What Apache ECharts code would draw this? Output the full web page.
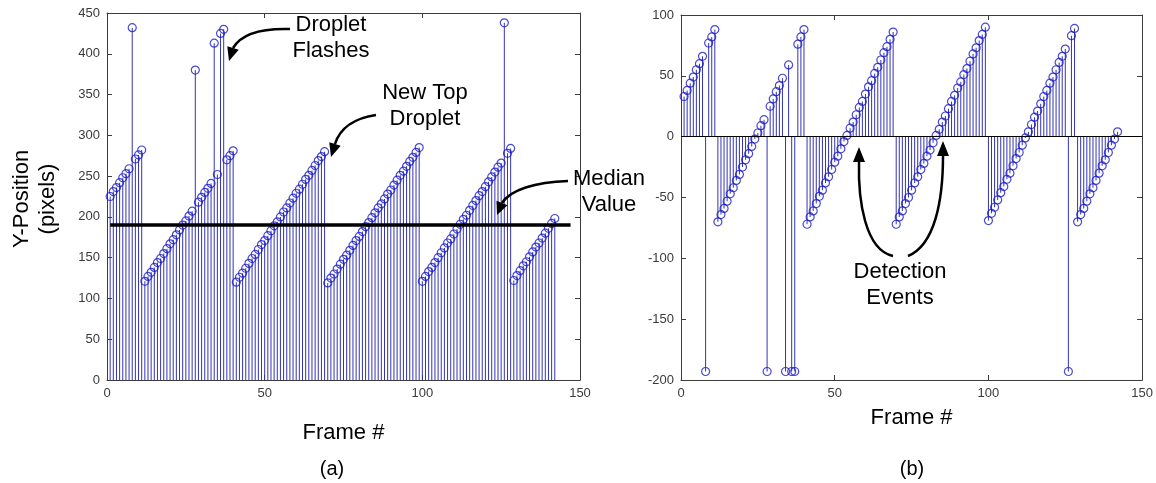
<!DOCTYPE html>
<html><head><meta charset="utf-8">
<script src="https://cdn.jsdelivr.net/npm/echarts@6.0.0/dist/echarts.min.js"></script>
<style>html,body{margin:0;padding:0;background:#fff}#c{width:1156px;height:483px}</style>
</head><body><div id="c"></div>
<script>
// ---- data ----
const firstFrame = 1;
// (a) raw Y-position of the top droplet, frames 1..142
const positionY = [
  225, 231, 236, 242, 248, 253, 259, 432, 271, 276, 282,
  121, 127, 132, 138, 144, 149, 155, 161, 167, 172, 178, 184, 190, 195, 201, 207, 380, 218, 224, 230, 235, 241, 413, 252, 425, 430, 270, 275, 281,
  120, 126, 131, 137, 143, 149, 154, 160, 166, 171, 177, 183, 189, 194, 200, 206, 211, 217, 223, 229, 234, 240, 246, 251, 257, 263, 269, 274, 280,
  119, 125, 130, 136, 142, 148, 153, 159, 165, 171, 176, 182, 188, 193, 199, 205, 211, 216, 222, 228, 233, 239, 245, 251, 256, 262, 268, 273, 279, 285,
  121, 127, 133, 138, 144, 150, 156, 162, 168, 173, 179, 185, 191, 197, 202, 208, 214, 220, 226, 231, 237, 243, 249, 255, 261, 266, 438, 278, 284,
  122, 128, 134, 140, 145, 151, 157, 163, 168, 174, 180, 186, 192, 198
];
// (b) position relative to the median, frames 1..142
const deviationY = [
  33, 38, 44, 49, 55, 60, 66, -193, 77, 82, 88,
  -70, -64, -59, -53, -47, -42, -36, -31, -25, -19, -14, -8, -2, 3, 9, 14, -193, 25, 31, 37, 42, 48, -193, 59, -193, -193, 76, 82, 88,
  -72, -66, -61, -55, -49, -44, -38, -33, -27, -21, -16, -10, -4, 1, 7, 12, 18, 24, 29, 35, 41, 46, 52, 57, 63, 69, 74, 80, 86,
  -72, -66, -61, -55, -50, -44, -38, -33, -27, -22, -16, -11, -5, 1, 6, 12, 17, 23, 29, 34, 40, 45, 51, 56, 62, 68, 73, 79, 84, 90,
  -69, -63, -58, -52, -46, -41, -35, -30, -24, -18, -13, -7, -1, 4, 10, 16, 21, 27, 33, 38, 44, 49, 55, 61, 66, 72, -193, 83, 89,
  -70, -64, -59, -53, -47, -42, -36, -30, -24, -19, -13, -7, -2, 4
];
const medianValue = 190;
const medianFrames = [1, 147];
const xRange = [0, 150, 50];
const leftYRange = [0, 450, 50];
const rightYRange = [-200, 100, 50];

// ---- build ----
const leftPts = positionY.map((v, i) => [firstFrame + i, v]);
const rightPts = deviationY.map((v, i) => [firstFrame + i, v]);
const medianPts = medianFrames.map(f => [f, medianValue]);

const FONT = "'Liberation Sans', Arial, sans-serif";
const AXC = '#3c3c3c';
function axis(gridIndex, range, position, showLabel) {
  return {
    type: 'value', gridIndex, position,
    min: range[0], max: range[1], interval: range[2],
    axisLine: { show: true, onZero: false, lineStyle: { color: AXC, width: 1 } },
    axisTick: { show: true, inside: true, length: 5, lineStyle: { color: AXC } },
    splitLine: { show: false },
    axisLabel: { show: showLabel, color: '#3a3a3a', fontSize: 13, fontFamily: FONT, margin: 7 }
  };
}
const stemColor = '#3434b4';
const ringColor = '#1c1cc8';

function arrow(p0, c1, c2, p1, tip) {
  const dx = tip[0] - p1[0], dy = tip[1] - p1[1];
  const L = Math.hypot(dx, dy), nx = -dy / L, ny = dx / L, hw = 6;
  return [
    { type: 'bezierCurve', z: 100, silent: true,
      shape: { x1: p0[0], y1: p0[1], cpx1: c1[0], cpy1: c1[1], cpx2: c2[0], cpy2: c2[1], x2: p1[0], y2: p1[1] },
      style: { stroke: '#000', lineWidth: 2.5, fill: 'none' } },
    { type: 'polygon', z: 100, silent: true,
      shape: { points: [tip, [p1[0] + nx * hw, p1[1] + ny * hw], [p1[0] - nx * hw, p1[1] - ny * hw]] },
      style: { fill: '#000' } }
  ];
}
function label(text, x, y, size, rot) {
  return { type: 'text', x, y, z: 100, silent: true, rotation: rot || 0,
    style: { text, fontSize: size, fontFamily: FONT, fill: '#000', align: 'center', verticalAlign: 'middle', lineHeight: 26 } };
}

const chart = echarts.init(document.getElementById('c'), null, { renderer: 'canvas' });
chart.setOption({
  animation: false,
  backgroundColor: '#fff',
  grid: [
    { left: 107, top: 13, width: 473, height: 367 },
    { left: 681, top: 15, width: 462, height: 365 }
  ],
  xAxis: [
    Object.assign(axis(0, xRange, 'bottom', true), { name: 'Frame #', nameLocation: 'middle', nameGap: 42, nameTextStyle: { fontSize: 22, fontFamily: FONT, color: '#000' } }),
    axis(0, xRange, 'top', false),
    Object.assign(axis(1, xRange, 'bottom', true), { name: 'Frame #', nameLocation: 'middle', nameGap: 27, nameTextStyle: { fontSize: 22, fontFamily: FONT, color: '#000' } }),
    axis(1, xRange, 'top', false)
  ],
  yAxis: [
    axis(0, leftYRange, 'left', true),
    axis(0, leftYRange, 'right', false),
    axis(1, rightYRange, 'left', true),
    axis(1, rightYRange, 'right', false)
  ],
  series: [
    { type: 'bar', xAxisIndex: 0, yAxisIndex: 0, data: leftPts, barWidth: 1, itemStyle: { color: stemColor }, silent: true },
    { type: 'scatter', xAxisIndex: 0, yAxisIndex: 0, data: leftPts, symbol: 'circle', symbolSize: 8,
      itemStyle: { color: 'rgba(0,0,0,0)', borderColor: ringColor, borderWidth: 1.2 }, silent: true },
    { type: 'line', xAxisIndex: 0, yAxisIndex: 0, data: medianPts, symbol: 'none', z: 5,
      lineStyle: { color: '#000', width: 3.5 }, silent: true },
    { type: 'bar', xAxisIndex: 2, yAxisIndex: 2, data: rightPts, barWidth: 1, itemStyle: { color: stemColor }, silent: true,
      markLine: { silent: true, symbol: 'none', label: { show: false }, lineStyle: { color: '#000', width: 1, type: 'solid' }, data: [{ yAxis: 0 }] } },
    { type: 'scatter', xAxisIndex: 2, yAxisIndex: 2, data: rightPts, symbol: 'circle', symbolSize: 8,
      itemStyle: { color: 'rgba(0,0,0,0)', borderColor: ringColor, borderWidth: 1.2 }, silent: true }
  ],
  graphic: [
    label('Y-Position', 22, 199, 22, Math.PI / 2),
    label('(pixels)', 48, 199, 22, Math.PI / 2),
    label('(a)', 332, 469, 20),
    label('(b)', 912, 469, 20),
    label('Droplet\nFlashes', 331, 38, 22),
    label('New Top\nDroplet', 425, 106, 22),
    label('Median\nValue', 609, 192, 22),
    label('Detection\nEvents', 900, 285, 22),
    ...arrow([290, 29], [258, 28], [240, 36], [233, 48], [229, 61]),
    ...arrow([376, 115], [355, 118], [340, 128], [335, 144], [331, 157]),
    ...arrow([568, 181], [535, 182], [510, 190], [502, 203], [497, 215]),
    ...arrow([893, 256], [865, 250], [858, 200], [859, 162], [859, 147]),
    ...arrow([908, 256], [935, 245], [943, 200], [943, 156], [943, 141])
  ]
});
</script></body></html>
